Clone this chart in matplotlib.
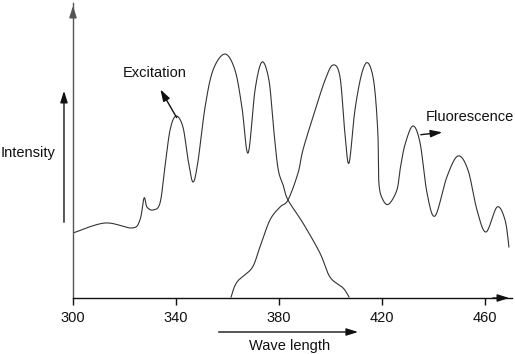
import numpy as np
import matplotlib.pyplot as plt

# values (wavelength nm, intensity in arbitrary units)
exc_wl = [300.0, 312.4, 322.9, 326.0, 327.6, 328.7, 331.1, 333.8, 335.7, 337.7,
          340.0, 342.7, 344.7, 346.6, 348.5, 351.3, 354.4, 359.0, 362.9, 365.6,
          368.0, 370.7, 373.4, 376.1, 377.7, 379.6, 381.6, 383.5, 389.3, 395.9,
          399.8, 404.9, 407.2]
exc_int = [65, 75, 70, 78, 100, 91, 88, 95, 131, 168,
           182, 171, 138, 116, 136, 191, 228, 244, 228, 191,
           145, 208, 236, 218, 175, 130, 113, 98, 75, 45,
           21, 10, 1]

flu_wl = [361.4, 363.7, 369.5, 372.6, 376.5, 380.4, 383.5, 387.4, 389.3, 393.2,
          397.9, 401.0, 403.7, 405.6, 407.2, 409.5, 412.2, 414.6, 416.9, 418.4,
          418.8, 420.4, 422.7, 425.8, 427.0, 428.9, 432.0, 434.8, 437.5, 440.6,
          445.2, 449.5, 453.4, 456.9, 460.4, 464.7, 467.8, 469.3]
flu_int = [1, 16, 30, 51, 78, 91, 98, 125, 148, 181,
           218, 233, 221, 165, 135, 188, 225, 235, 215, 165,
           115, 98, 94, 108, 128, 153, 172, 155, 105, 82,
           121, 142, 128, 88, 66, 91, 78, 51]

xticks = [300, 340, 380, 420, 460]


def smooth(x, y, n=20):
    # Catmull-Rom curve through the read points, only for drawing
    p = np.column_stack([x, y]).astype(float)
    p = np.vstack([p[0], p, p[-1]])
    out = []
    t = np.linspace(0, 1, n, endpoint=False)[:, None]
    for i in range(1, len(p) - 2):
        p0, p1, p2, p3 = p[i - 1], p[i], p[i + 1], p[i + 2]
        seg = 0.5 * ((2 * p1) + (-p0 + p2) * t + (2 * p0 - 5 * p1 + 4 * p2 - p3) * t ** 2
                     + (-p0 + 3 * p1 - 3 * p2 + p3) * t ** 3)
        out.append(seg)
    out.append(p[-2][None, :])
    out = np.vstack(out)
    return out[:, 0], out[:, 1]


plt.rcParams['font.family'] = ['Liberation Sans', 'DejaVu Sans']
fig = plt.figure(figsize=(5.15, 3.54), dpi=100)
ax = fig.add_axes([73 / 515, 56 / 354, 439 / 515, 295 / 354])
ax.set_xlim(300, 470.5)
ax.set_ylim(0, 295)

line_col = '#333333'
ax.plot(*smooth(exc_wl, exc_int), color=line_col, lw=0.8)
ax.plot(*smooth(flu_wl, flu_int), color=line_col, lw=0.8)

for s in ['top', 'right']:
    ax.spines[s].set_visible(False)
ax.spines['left'].set_color('#555555')
ax.spines['bottom'].set_color('#111111')
ax.spines['left'].set_linewidth(1.0)
ax.spines['bottom'].set_linewidth(1.0)
ax.set_xticks(xticks)
ax.set_yticks([])
ax.tick_params(axis='x', direction='out', length=5, width=1, pad=4,
               labelsize=10.5, colors='#111111')

head = dict(arrowstyle='-|>,head_length=0.7,head_width=0.22', color='#111111', lw=1.0)
# arrowheads at the ends of the axes
ax.annotate('', xy=(1.0, 0), xytext=(0.95, 0), xycoords='axes fraction',
            arrowprops=head, annotation_clip=False)
ax.annotate('', xy=(0, 1.0), xytext=(0, 0.95), xycoords='axes fraction',
            arrowprops=dict(head, color='#555555'), annotation_clip=False)

# Intensity arrow and label
ax.annotate('', xy=(296.5, 210), xytext=(296.5, 73), arrowprops=head, annotation_clip=False)
ax.text(272.0, 145, 'Intensity', fontsize=10.5, ha='left', va='center', color='#111111')

# Wave length arrow and label
ax.annotate('', xy=(411.8, -34), xytext=(355.5, -34), arrowprops=head, annotation_clip=False)
ax.text(384.3, -48, 'Wave length', fontsize=10.5, ha='center', va='center', color='#111111')

# curve labels
ax.annotate('', xy=(333.4, 211), xytext=(340.8, 178), arrowprops=head)
ax.text(331.8, 225, 'Excitation', fontsize=10.5, ha='center', va='center', color='#111111')
ax.annotate('', xy=(444.5, 166), xytext=(434.0, 163), arrowprops=head)
ax.text(437.1, 181, 'Fluorescence', fontsize=10.5, ha='left', va='center', color='#111111')

fig.savefig('out.png', dpi=100)
